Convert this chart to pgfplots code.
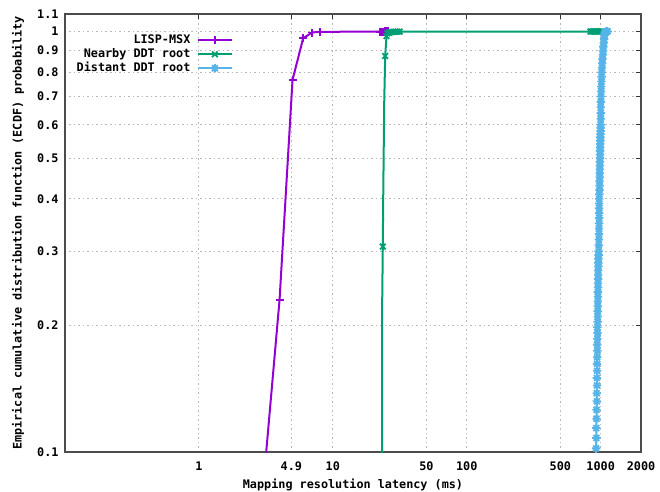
\documentclass[border=0pt]{standalone}
\usepackage{fontspec}
\setmainfont{DejaVu Sans Mono}
\usepackage{pgfplots}
\pgfplotsset{compat=1.18}
\usepackage{pgfplotstable}
\definecolor{cpurple}{HTML}{9400D3}
\definecolor{cgreen}{HTML}{009E73}
\definecolor{cblue}{HTML}{56B4E9}

\pgfdeclareplotmark{gpstar}{%
 \pgfpathmoveto{\pgfqpoint{-\pgfplotmarksize}{0pt}}\pgfpathlineto{\pgfqpoint{\pgfplotmarksize}{0pt}}%
 \pgfpathmoveto{\pgfqpoint{0pt}{-\pgfplotmarksize}}\pgfpathlineto{\pgfqpoint{0pt}{\pgfplotmarksize}}%
 \pgfpathmoveto{\pgfqpoint{-0.7\pgfplotmarksize}{-0.7\pgfplotmarksize}}\pgfpathlineto{\pgfqpoint{0.7\pgfplotmarksize}{0.7\pgfplotmarksize}}%
 \pgfpathmoveto{\pgfqpoint{-0.7\pgfplotmarksize}{0.7\pgfplotmarksize}}\pgfpathlineto{\pgfqpoint{0.7\pgfplotmarksize}{-0.7\pgfplotmarksize}}%
 \pgfusepathqstroke}

% LISP-MSX
\pgfplotstableread{
x y
3 0.081
4 0.23
5 0.767
6 0.963
7 0.994
8 0.998
22.6 0.9985
23 0.999
23.5 0.9993
24 0.9995
24.5 0.9997
25 0.9999
25.7 1.0
}\lisp

% Nearby DDT root (line)
\pgfplotstableread{
x y
23.30 0.08
23.37 0.23
23.60 0.308
23.77 0.40
24.18 0.675
24.60 0.874
25.16 0.975
25.6 0.990
26.3 0.994
27.0 0.996
27.8 0.997
28.6 0.9975
29.5 0.998
30.4 0.9985
31.5 0.999
840 0.9993
865 0.9995
890 0.9996
915 0.9997
940 0.9998
965 0.9999
1000 1.0
}\nearline

% Nearby DDT root (marked points)
\pgfplotstableread{
x y
23.60 0.308
24.60 0.874
25.16 0.975
25.6 0.990
26.3 0.994
27.0 0.996
27.8 0.997
28.6 0.9975
29.5 0.998
30.4 0.9985
31.5 0.999
840 0.9993
865 0.9995
890 0.9996
915 0.9997
940 0.9998
965 0.9999
1000 1.0
}\nearmarks

% Distant DDT root
\pgfplotstableread{
x y
922 0.090
925 0.096
924 0.102
928 0.108
926 0.114
930 0.120
931 0.126
936 0.132
934 0.138
938 0.144
937 0.150
941 0.156
939 0.162
942 0.168
944 0.174
941 0.180
945 0.186
947 0.192
944 0.198
948 0.204
950 0.210
949 0.216
952 0.222
951 0.228
954 0.234
953 0.240
956 0.246
955 0.252
957 0.258
959 0.264
956 0.270
960 0.276
962 0.282
961 0.288
964 0.294
966 0.300
968 0.31
970 0.32
972 0.33
971 0.34
974 0.35
973 0.36
975 0.37
974 0.38
976 0.39
975 0.40
978 0.41
979 0.42
981 0.43
980 0.44
983 0.45
984 0.46
983 0.47
986 0.48
987 0.49
988 0.50
990 0.51
989 0.52
992 0.53
993 0.54
995 0.55
994 0.56
997 0.57
998 0.58
999 0.59
1000 0.60
1001 0.62
1002 0.64
1001 0.66
1003 0.68
1006 0.70
1008 0.72
1010 0.74
1013 0.76
1016 0.78
1019 0.80
1023 0.82
1027 0.84
1032 0.86
1037 0.88
1043 0.90
1048 0.92
1054 0.94
1060 0.96
1066 0.98
1072 0.99
1080 0.995
1090 0.998
1100 0.999
1112 1.0
1125 1.0
}\distant

\begin{document}
\begin{tikzpicture}
\path[use as bounding box] (0,0) rectangle (660pt,491pt);
\begin{axis}[
  at={(65pt,39pt)}, anchor=south west,
  scale only axis, width=576pt, height=438pt,
  xmode=log, ymode=log,
  xmin=0.1, xmax=2000, ymin=0.1, ymax=1.1,
  xtick={1,4.9,10,50,100,500,1000,2000},
  xticklabels={1,4.9,10,50,100,500,1000,2000},
  ytick={0.1,0.2,0.3,0.4,0.5,0.6,0.7,0.8,0.9,1,1.1},
  yticklabels={0.1,0.2,0.3,0.4,0.5,0.6,0.7,0.8,0.9,1,1.1},
  xminorticks=false, yminorticks=false,
  xtick pos=right, ytick pos=right,
  xticklabel pos=left, yticklabel pos=left,
  tick align=inside, major tick length=5pt,
  tick style={black!80, line width=1pt},
  grid=major,
  grid style={black!28, line width=0.9pt, dash pattern=on 1.5pt off 3pt},
  axis line style={black!70, line width=1.3pt},
  font=\bfseries\fontsize{11.8}{13}\selectfont,
  /pgf/number format/assume math mode=true,
  yticklabel style={anchor=east, xshift=-3pt},
  xticklabel style={anchor=north, yshift=-6pt},
  xlabel={Mapping resolution latency (ms)},
  ylabel={Empirical cumulative distribution function (ECDF) probability},
  xlabel style={at={(axis description cs:0.5,-0.0753)}, anchor=center},
  ylabel style={at={(axis description cs:-0.0816,0.5)}, anchor=center},
  legend plot pos=right,
  legend cell align=right,
  legend style={at={(axis description cs:0.297,0.961)}, anchor=north east,
    draw=none, fill=none, row sep=0pt,
    font=\bfseries\fontsize{11.8}{13}\selectfont,
    nodes={inner sep=1.5pt, text height=8.5pt, text depth=2.5pt}},
  legend image code/.code={\path (0pt,0pt); \draw[mark repeat=2,mark phase=2] plot coordinates {(5pt,0pt) (22pt,0pt) (39pt,0pt)};},
]
\addplot[cpurple, line width=2pt, mark=+, mark size=4pt, mark options={line width=1.8pt}, forget plot] table {\lisp};
\addplot[cgreen, line width=2pt, forget plot] table {\nearline};
\addplot[cgreen, only marks, mark=x, mark size=4pt, mark options={line width=1.8pt}, forget plot] table {\nearmarks};
\addplot[cblue, line width=2pt, mark=gpstar, mark size=4.2pt, mark options={line width=1.8pt}, forget plot] table {\distant};
\addlegendimage{cpurple, line width=2pt, mark=+, mark size=4pt, mark options={line width=1.8pt}}
\addlegendentry{LISP-MSX}
\addlegendimage{cgreen, line width=2pt, mark=x, mark size=4pt, mark options={line width=1.8pt}}
\addlegendentry{Nearby DDT root}
\addlegendimage{cblue, line width=2pt, mark=gpstar, mark size=4.2pt, mark options={line width=1.8pt}}
\addlegendentry{Distant DDT root}
\end{axis}
\end{tikzpicture}
\end{document}
